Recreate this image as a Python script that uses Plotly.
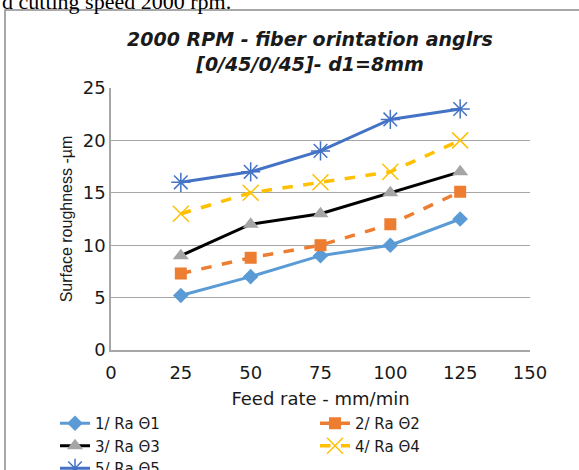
import plotly.graph_objects as go

feed = [25, 50, 75, 100, 125]
ra1 = [5.2, 7.0, 9.0, 10.0, 12.5]
ra2 = [7.3, 8.8, 10.0, 12.0, 15.1]
ra3 = [9.0, 12.0, 13.0, 15.0, 17.0]
ra4 = [13.0, 15.0, 16.0, 17.0, 20.0]
ra5 = [16.0, 17.0, 19.0, 22.0, 23.0]
names = ["1/ Ra Θ1", "2/ Ra Θ2", "3/ Ra Θ3", "4/ Ra Θ4", "5/ Ra Θ5"]

W, H = 579, 470
L, R, T, B = 111, 49, 88, 120

fig = go.Figure()
styles = [
    (ra1, dict(color="#5B9BD5", width=3, dash="solid"), dict(symbol="diamond", size=12, color="#5B9BD5")),
    (ra2, dict(color="#ED7D31", width=3.5, dash="dash"), dict(symbol="square", size=12, color="#ED7D31")),
    (ra3, dict(color="#000000", width=3, dash="solid"), dict(symbol="triangle-up", size=14, color="#A5A5A5")),
    (ra4, dict(color="#FFC000", width=3.5, dash="dash"), dict(symbol="x-thin-open", size=16, color="#FFC000", line=dict(width=1.5, color="#FFC000"))),
    (ra5, dict(color="#4472C4", width=3, dash="solid"), dict(symbol="asterisk-open", size=16, color="#4472C4", line=dict(width=1.5, color="#4472C4"))),
]
for (vals, ln, mk), nm in zip(styles, names):
    fig.add_trace(go.Scatter(x=feed, y=vals, name=nm, mode="lines+markers", line=ln, marker=mk))

sans = "DejaVu Sans, sans-serif"
narrow = "Liberation Sans Narrow, Arial Narrow, sans-serif"
pw, ph = W - L - R, H - T - B
fig.update_layout(
    width=W, height=H,
    margin=dict(l=L, r=R, t=T, b=B, autoexpand=False),
    paper_bgcolor="white", plot_bgcolor="white",
    font=dict(family=sans, size=18, color="#1a1a1a"),
    title=dict(text="<b><i>2000 RPM - fiber orintation anglrs<br>[0/45/0/45]- d1=8mm</i></b>",
               x=310 / W, xanchor="center", xref="container",
               y=1 - 46 / H, yanchor="middle", yref="container",
               font=dict(size=19, color="#1a1a1a")),
    xaxis=dict(range=[0, 150], tickvals=[0, 25, 50, 75, 100, 125, 150], showgrid=False,
               showline=True, linecolor="#a6a6a6", linewidth=1.5, ticks="", zeroline=False,
               automargin=False, tickfont=dict(size=18), ticklabelstandoff=6,
               title=dict(text="Feed rate - mm/min", font=dict(size=18), standoff=10)),
    yaxis=dict(range=[0, 25], tickvals=[0, 5, 10, 15, 20, 25], showgrid=True, gridcolor="#a6a6a6",
               gridwidth=1.2, showline=True, linecolor="#a6a6a6", linewidth=1.5, ticks="",
               zeroline=False, automargin=False, tickfont=dict(size=18), ticklabelstandoff=0,
               title=dict(text="Surface roughness -µm", font=dict(size=16, family=narrow), standoff=6)),
    legend=dict(orientation="h", xref="paper", yref="paper",
                x=(55 - L) / pw, xanchor="left", y=-(407 - (H - B)) / ph, yanchor="top",
                entrywidth=215, entrywidthmode="pixels", font=dict(size=15),
                tracegroupgap=0, bgcolor="rgba(0,0,0,0)"),
    showlegend=True,
)
# chart frame border
fig.add_shape(type="rect", xref="paper", yref="paper",
              x0=(5 - L) / pw, x1=1 + (R + 40) / pw,
              y0=-(B + 40) / ph, y1=1 + (T - 10) / ph,
              line=dict(color="#8c8c8c", width=1.5), fillcolor="rgba(0,0,0,0)", layer="below")
fig.add_annotation(text="d cutting speed 2000 rpm.", xref="paper", yref="paper",
                   x=(0 - L) / pw, xanchor="left", y=1 + (T - 16) / ph, yanchor="bottom",
                   showarrow=False, font=dict(family="Liberation Serif, serif", size=22, color="black"))
fig.write_html("out.html")
